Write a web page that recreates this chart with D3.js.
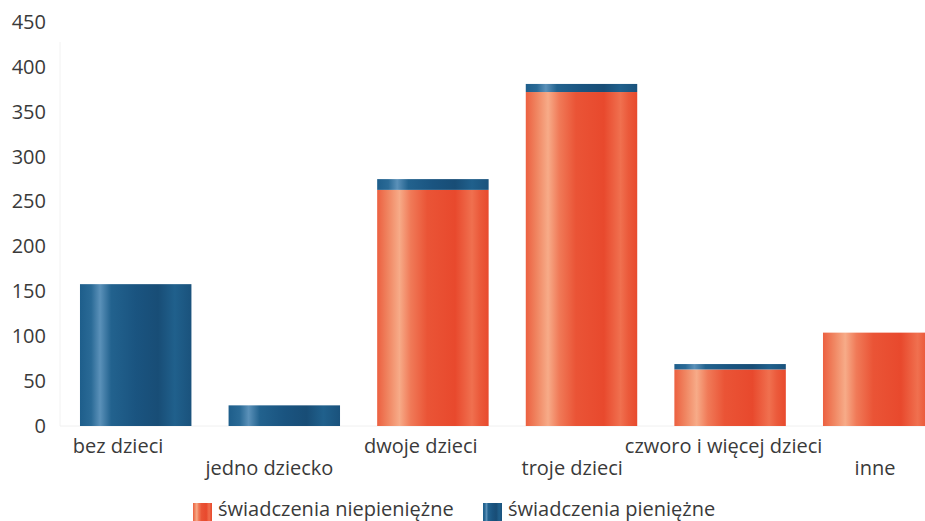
<!DOCTYPE html>
<html><head><meta charset="utf-8">
<script src="https://cdn.jsdelivr.net/npm/d3@7"></script>
<style>body{margin:0;background:#fff}svg{display:block}text{font-family:"Open Sans",sans-serif}</style>
</head><body>
<svg id="c" width="925" height="521"></svg>
<script>
const categories = ["bez dzieci","jedno dziecko","dwoje dzieci","troje dzieci","czworo i więcej dzieci","inne"];
const nonCash = [0, 0, 263, 372, 63, 104];   // świadczenia niepieniężne
const cash    = [158, 23, 12, 9, 6, 0];      // świadczenia pieniężne
const seriesNames = ["świadczenia niepieniężne","świadczenia pieniężne"];
const yTicks = [0,50,100,150,200,250,300,350,400,450];

const svg = d3.select("#c");
const defs = svg.append("defs");
function grad(id, stops){
  const g = defs.append("linearGradient").attr("id",id).attr("x1","0").attr("x2","1").attr("y1","0").attr("y2","0");
  stops.forEach(s=>g.append("stop").attr("offset",s[0]).attr("stop-color",s[1]));
}
grad("gOrange",[[0,"#ec6040"],[0.1,"#f08662"],[0.2,"#f7ab88"],[0.3,"#f07a58"],[0.45,"#ea5436"],[0.7,"#e8492d"],[0.85,"#f0704f"],[0.92,"#eb5a3b"],[1,"#e84a2d"]]);
grad("gBlue",[[0,"#1e5e8b"],[0.1,"#2a6a96"],[0.18,"#5b91b9"],[0.28,"#22628e"],[0.5,"#1a5480"],[0.7,"#184d76"],[0.85,"#20608c"],[1,"#1a527c"]]);

const y = d3.scaleLinear().domain([0,450]).range([426,22]);
const x = d3.scaleBand().domain(categories).range([61.4,953]).paddingInner(0.25).paddingOuter(0.125);
const xLabel = d3.scalePoint().domain(categories).range([118,875]);

// faint axis lines
svg.append("line").attr("x1",60).attr("x2",60).attr("y1",y(450)+20).attr("y2",y(0)).attr("stroke","#f2f2f2");
svg.append("line").attr("x1",60).attr("x2",925).attr("y1",y(0)).attr("y2",y(0)).attr("stroke","#f0f0f0");

// y axis
const yAxis = d3.axisLeft(y).tickValues(yTicks).tickSize(0).tickPadding(0);
const ga = svg.append("g").attr("transform","translate(46,0)").call(yAxis);
ga.select(".domain").remove();
ga.selectAll("text").attr("font-size",20).attr("fill","#3a3a3a").attr("font-family","'Open Sans',sans-serif");

// bars
const data = categories.map((c,i)=>({c, a:nonCash[i], b:cash[i]}));
const g = svg.append("g");
g.selectAll("rect.o").data(data.filter(d=>d.a>0)).join("rect").attr("class","o")
  .attr("x",d=>x(d.c)).attr("width",x.bandwidth())
  .attr("y",d=>y(d.a)).attr("height",d=>y(0)-y(d.a)).attr("fill","url(#gOrange)");
g.selectAll("rect.b").data(data.filter(d=>d.b>0)).join("rect").attr("class","b")
  .attr("x",d=>x(d.c)).attr("width",x.bandwidth())
  .attr("y",d=>y(d.a+d.b)).attr("height",d=>y(d.a)-y(d.a+d.b)).attr("fill","url(#gBlue)");

// x labels (staggered)
svg.append("g").selectAll("text").data(categories).join("text")
  .attr("x",d=>xLabel(d)).attr("y",(d,i)=>i%2===0?453:475)
  .attr("text-anchor","middle").attr("font-size",20).attr("fill","#3a3a3a").text(d=>d);

// legend
const leg = svg.append("g");
const legX = [193, 483];
const legFill = ["url(#gOrange)","url(#gBlue)"];
seriesNames.forEach((n,i)=>{
  leg.append("rect").attr("x",legX[i]).attr("y",503).attr("width",19).attr("height",18).attr("fill",legFill[i]);
  leg.append("text").attr("x",legX[i]+25).attr("y",516).attr("font-size",20).attr("fill","#3a3a3a").text(n);
});
</script>
</body></html>
